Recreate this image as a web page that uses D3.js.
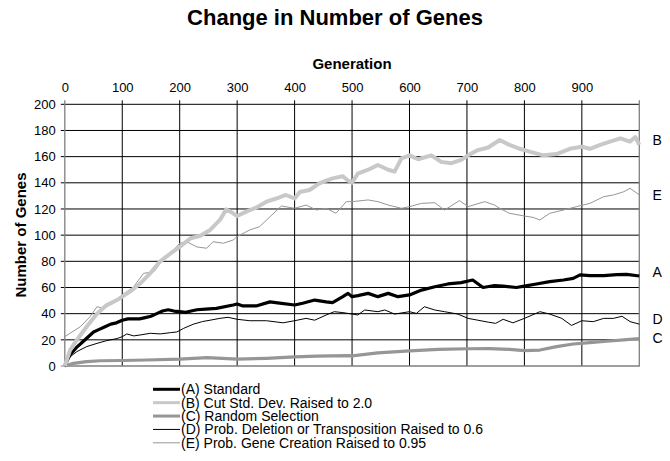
<!DOCTYPE html>
<html>
<head>
<meta charset="utf-8">
<script src="https://cdn.jsdelivr.net/npm/d3@7"></script>
<style>
  body { margin: 0; background: #fff; }
  svg text { font-family: "Liberation Sans", Arial, sans-serif; }
</style>
</head>
<body>
<div id="chart"></div>
<script>
// values: [generation, number of genes]
var seriesA = [[0,0],[5,5],[10,9],[20,14],[30,18],[40,22],[50,26],[60,28],[70,30],[80,32],[90,33],[100,35],[110,36],[120,36],[130,36],[140,37],[150,38],[160,40],[170,42],[180,43],[190,42],[200,41.5],[210,41],[220,42],[230,43],[245,43.5],[264,44],[293,46.6],[300,47.4],[310,45.9],[333,45.9],[357,49],[374,48],[400,46.6],[414,48],[435,50.4],[455,49],[466,48.4],[484,53],[493,55.5],[500,53],[510,53.8],[528,55.5],[545,53],[563,55.5],[580,53],[600,54.3],[621,58],[644,60.6],[667,62.7],[690,63.7],[710,65.7],[728,60],[748,61.5],[763,61],[786,60],[800,61],[821,62.7],[844,64.5],[868,65.7],[885,67],[897,69.6],[914,69],[938,69],[961,69.8],[978,70],[1000,68.8]];
var seriesB = [[0,0],[9,12],[21,20],[38,30],[56,40],[73,46.6],[91,50.4],[100,53],[114,57],[131,63],[149,71],[166,80],[184,86],[200,91],[219,97.6],[236,99.5],[253,104],[270,111.6],[281,119.7],[293,116.7],[300,114.6],[316,118],[333,121],[351,125.6],[368,128],[385,130.7],[400,128],[409,133],[426,134.5],[443,139.6],[455,141.7],[466,143.4],[484,145],[492,142],[500,140],[510,147],[528,150],[545,153.6],[563,150],[574,148.5],[586,158.7],[600,161],[615,158],[638,161],[655,156],[673,155],[690,157.5],[702,161],[719,165],[737,167],[757,172.7],[774,169],[792,166],[809,163.8],[833,161],[856,162],[879,166],[900,167.6],[914,166],[932,169],[949,171.5],[967,174],[984,171.5],[993,175],[1000,169]];
var seriesC = [[0,0],[15,2],[38,3.3],[62,4],[100,4.2],[143,4.6],[200,5.3],[248,6.4],[300,5.2],[351,5.9],[400,7],[438,7.6],[493,8],[500,7.8],[545,10],[600,11.5],[650,12.7],[702,13.2],[739,13.3],[774,12.7],[800,11.7],[827,12.2],[856,14.8],[885,16.8],[914,17.8],[943,18.9],[973,19.9],[1000,21]];
var seriesD = [[0,0],[9,7],[21,11],[38,14.8],[56,17.3],[73,19.4],[91,21],[100,22.4],[108,24.5],[120,23],[131,23.7],[149,25],[166,24.5],[184,25.5],[195,26],[207,28.8],[224,32],[240,34],[253,35],[270,36.4],[284,37.2],[300,35.7],[322,34.6],[351,34.6],[380,33],[400,34.6],[420,36.4],[435,35],[455,39],[469,41.5],[484,40.8],[500,39.7],[510,39],[522,42.8],[545,41.5],[557,42.8],[574,39.7],[600,41.5],[612,40.2],[626,45.3],[644,42.8],[661,41.5],[684,39.7],[702,36.4],[719,35],[737,33.5],[750,32.6],[763,35.7],[780,33],[800,36.4],[827,41.5],[844,39.7],[865,36.4],[882,31],[900,34.6],[920,33.9],[938,36.4],[955,36.4],[970,38],[984,33.9],[1000,32]];
var seriesE = [[0,22.4],[9,25],[27,30],[44,37.7],[56,45.3],[67,44],[85,48],[100,54.3],[120,60.6],[137,70.8],[155,72],[166,78.5],[184,86],[200,93.8],[212,95],[230,91],[247,90],[258,95],[276,93.8],[293,96.3],[300,98.9],[322,104],[339,106.5],[357,114],[377,122.3],[400,120.5],[420,123],[438,119.2],[455,120.5],[472,116.7],[490,125.6],[500,125.6],[528,126.9],[545,125.6],[563,123],[586,120.5],[600,121.8],[621,124.3],[644,124.8],[661,119.2],[687,126.4],[702,121.8],[731,125.6],[748,123],[757,120.5],[774,116.7],[800,114.6],[815,113.6],[827,111.6],[844,116.7],[868,119.2],[891,121.8],[914,124.3],[938,129.4],[955,130.7],[973,133.2],[984,135.8],[1000,130.7]];

var seriesKeys = ["A", "B", "C", "D", "E"];
var legendNames = ["(A) Standard", "(B) Cut Std. Dev. Raised to 2.0", "(C) Random Selection",
    "(D) Prob. Deletion or Transposition Raised to 0.6", "(E) Prob. Gene Creation Raised to 0.95"];
var xTicks = [0, 100, 200, 300, 400, 500, 600, 700, 800, 900];
var yTicks = [0, 20, 40, 60, 80, 100, 120, 140, 160, 180, 200];

var width = 670,
    height = 461,
    plot = { left: 64.8, right: 639.3, top: 104.3, bottom: 366 };

// line styles, in the same order as seriesKeys
var styles = [
    { color: "#000000", width: 3.2 },
    { color: "#c8c8c8", width: 4 },
    { color: "#969696", width: 3.2 },
    { color: "#000000", width: 1 },
    { color: "#969696", width: 1 }
];

var allSeries = [seriesA, seriesB, seriesC, seriesD, seriesE];

var svg = d3.select("#chart").append("svg")
    .attr("width", width)
    .attr("height", height);

var x = d3.scaleLinear().domain([0, 1000]).range([plot.left, plot.right]);
var y = d3.scaleLinear().domain([0, 200]).range([plot.bottom, plot.top]);

// title
svg.append("text")
    .attr("x", 335).attr("y", 25)
    .attr("text-anchor", "middle")
    .style("font-size", "22px").style("font-weight", "bold")
    .text("Change in Number of Genes");

svg.append("text")
    .attr("x", 352).attr("y", 68.5)
    .attr("text-anchor", "middle")
    .style("font-size", "15px").style("font-weight", "bold")
    .text("Generation");

svg.append("text")
    .attr("transform", "translate(25.5,235) rotate(-90)")
    .attr("text-anchor", "middle")
    .style("font-size", "15px").style("font-weight", "bold")
    .text("Number of Genes");

// grid
var grid = svg.append("g").attr("class", "grid");
grid.selectAll("line.v")
    .data(xTicks.filter(function(d) { return d > 0; }))
    .enter().append("line")
    .attr("class", "v")
    .attr("x1", function(d) { return x(d); })
    .attr("x2", function(d) { return x(d); })
    .attr("y1", plot.top - 4)
    .attr("y2", plot.bottom)
    .attr("stroke", "#000").attr("stroke-width", 1);

grid.selectAll("line.h")
    .data(yTicks.filter(function(d) { return d > 0; }))
    .enter().append("line")
    .attr("class", "h")
    .attr("x1", plot.left - 4)
    .attr("x2", plot.right)
    .attr("y1", function(d) { return y(d); })
    .attr("y2", function(d) { return y(d); })
    .attr("stroke", "#000").attr("stroke-width", 1);

// frame (left, bottom, right) in grey
svg.append("path")
    .attr("d", "M" + plot.left + "," + (plot.top - 4) + "V" + plot.bottom + "H" + plot.right + "V" + (plot.top - 4))
    .attr("fill", "none")
    .attr("stroke", "#808080").attr("stroke-width", 1.3);
svg.append("line")
    .attr("x1", plot.left - 4).attr("x2", plot.left)
    .attr("y1", plot.bottom).attr("y2", plot.bottom)
    .attr("stroke", "#808080");

// axes labels through d3 axes, lines hidden
var xAxis = svg.append("g")
    .attr("transform", "translate(0," + (plot.top - 12) + ")")
    .call(d3.axisTop(x).tickValues(xTicks).tickSize(0).tickPadding(0));
xAxis.select(".domain").remove();
xAxis.selectAll("text").style("font-size", "13px").attr("font-family", null).attr("fill", "#000");

var yAxis = svg.append("g")
    .attr("transform", "translate(" + (plot.left - 9) + ",0)")
    .call(d3.axisLeft(y).tickValues(yTicks).tickSize(0).tickPadding(0));
yAxis.select(".domain").remove();
yAxis.selectAll("text").style("font-size", "13px").attr("font-family", null).attr("fill", "#000");

// series lines
var line = d3.line()
    .x(function(d) { return x(d[0]); })
    .y(function(d) { return y(d[1]); });

var drawOrder = [2, 4, 3, 0, 1];
var lines = svg.append("g").attr("class", "series");
drawOrder.forEach(function(i) {
    lines.append("path")
        .datum(allSeries[i])
        .attr("d", line)
        .attr("fill", "none")
        .attr("stroke", styles[i].color)
        .attr("stroke-width", styles[i].width)
        .attr("stroke-linejoin", "round");
});

// end labels
var labelY = { A: 272.3, B: 140, C: 337.7, D: 319.3, E: 195 };
svg.selectAll("text.endlabel")
    .data(seriesKeys)
    .enter().append("text")
    .attr("class", "endlabel")
    .attr("x", 652.5)
    .attr("y", function(d) { return labelY[d] + 5; })
    .style("font-size", "14px")
    .text(function(d) { return d; });

// legend
var legend = svg.append("g").attr("class", "legend");
var rowY = d3.scaleLinear().domain([0, 4]).range([389.3, 442.8]);
legendNames.forEach(function(name, i) {
    legend.append("line")
        .attr("x1", 153).attr("x2", 180)
        .attr("y1", rowY(i)).attr("y2", rowY(i))
        .attr("stroke", styles[i].color)
        .attr("stroke-width", Math.min(styles[i].width, 3));
    legend.append("text")
        .attr("x", 181).attr("y", rowY(i) + 5)
        .style("font-size", "14px")
        .text(name);
});
</script>
</body>
</html>
